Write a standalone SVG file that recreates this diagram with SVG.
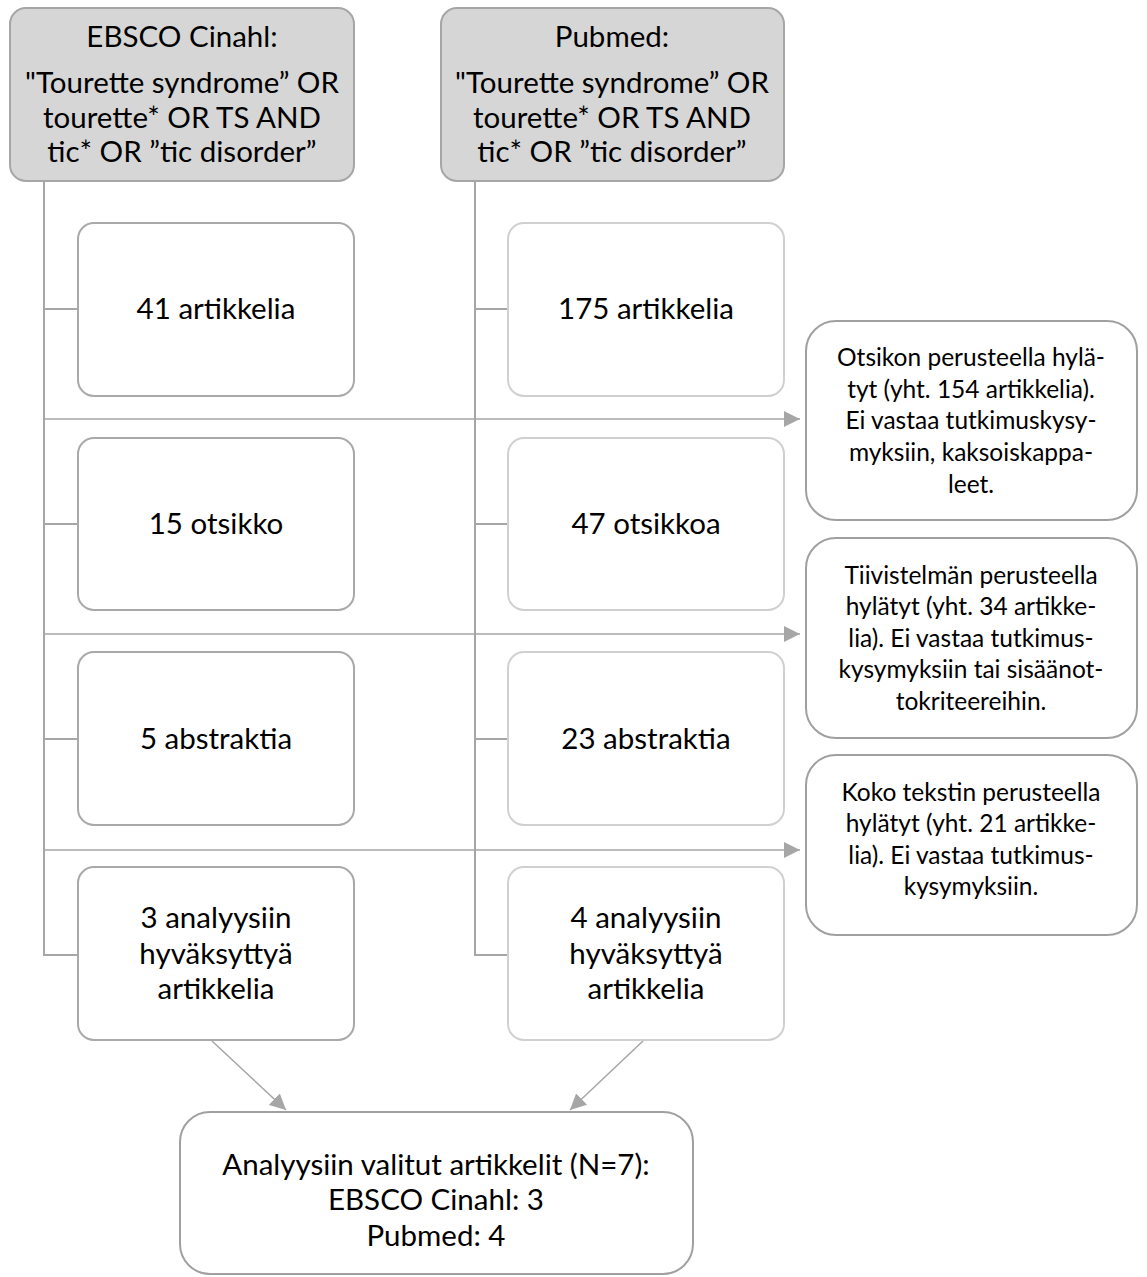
<svg xmlns="http://www.w3.org/2000/svg" width="1147" height="1277" viewBox="0 0 1147 1277">
<defs>
<style>
text{font-family:Lato,"Open Sans","Liberation Sans",sans-serif;fill:#000;text-anchor:middle}
.t{font-size:29.5px}
.s{font-size:24.5px}
.hdr{fill:#d6d6d6;stroke:#a6a6a6;stroke-width:2}
.lb{fill:#fff;stroke:#a9a9a9;stroke-width:2}
.rb{fill:#fff;stroke:#d0d0d0;stroke-width:2}
.sb{fill:#fff;stroke:#a0a0a0;stroke-width:2}
.ln{fill:none;stroke:#a6a6a6;stroke-width:2}
.ar{fill:none;stroke:#a6a6a6;stroke-width:1.5}
</style>
<marker id="ah" viewBox="0 0 10 10" refX="10" refY="5" markerWidth="16" markerHeight="16" markerUnits="userSpaceOnUse" orient="auto">
<path d="M0,0 L10,5 L0,10 Z" fill="#a6a6a6"/>
</marker>
</defs>
<g id="connectors">
<path class="ln" d="M44,181 V955 H78 M44,309 H78 M44,524 H78 M44,739 H78"/>
<path class="ln" d="M475,181 V955 H508 M475,309 H508 M475,524 H508 M475,739 H508"/>
<line class="ar" x1="44" y1="419" x2="800" y2="419" marker-end="url(#ah)"/>
<line class="ar" x1="44" y1="634" x2="800" y2="634" marker-end="url(#ah)"/>
<line class="ar" x1="44" y1="850" x2="800" y2="850" marker-end="url(#ah)"/>
<line class="ar" x1="212" y1="1041" x2="286" y2="1110" marker-end="url(#ah)"/>
<line class="ar" x1="643" y1="1041" x2="570" y2="1110" marker-end="url(#ah)"/>
</g>
<g id="ebsco">
<rect class="hdr" x="10" y="8" width="344" height="173" rx="16"/>
<text class="t" x="182" y="47">EBSCO Cinahl:</text>
<text class="t" x="182" y="93">"Tourette syndrome” OR</text>
<text class="t" x="182" y="128">tourette* OR TS AND</text>
<text class="t" x="182" y="162">tic* OR ”tic disorder”</text>
</g>
<g id="pubmed">
<rect class="hdr" x="441" y="8" width="343" height="173" rx="16"/>
<text class="t" x="612" y="47">Pubmed:</text>
<text class="t" x="612" y="93">"Tourette syndrome” OR</text>
<text class="t" x="612" y="128">tourette* OR TS AND</text>
<text class="t" x="612" y="162">tic* OR ”tic disorder”</text>
</g>
<g id="l1"><rect class="lb" x="78" y="223" width="276" height="173" rx="16"/><text class="t" x="216" y="319">41 artikkelia</text></g>
<g id="l2"><rect class="lb" x="78" y="438" width="276" height="172" rx="16"/><text class="t" x="216" y="534">15 otsikko</text></g>
<g id="l3"><rect class="lb" x="78" y="652" width="276" height="173" rx="16"/><text class="t" x="216" y="749">5 abstraktia</text></g>
<g id="l4"><rect class="lb" x="78" y="867" width="276" height="173" rx="16"/>
<text class="t" x="216" y="928">3 analyysiin</text><text class="t" x="216" y="964">hyväksyttyä</text><text class="t" x="216" y="999">artikkelia</text></g>
<g id="r1"><rect class="rb" x="508" y="223" width="276" height="173" rx="16"/><text class="t" x="646" y="319">175 artikkelia</text></g>
<g id="r2"><rect class="rb" x="508" y="438" width="276" height="172" rx="16"/><text class="t" x="646" y="534">47 otsikkoa</text></g>
<g id="r3"><rect class="rb" x="508" y="652" width="276" height="173" rx="16"/><text class="t" x="646" y="749">23 abstraktia</text></g>
<g id="r4"><rect class="rb" x="508" y="867" width="276" height="173" rx="16"/>
<text class="t" x="646" y="928">4 analyysiin</text><text class="t" x="646" y="964">hyväksyttyä</text><text class="t" x="646" y="999">artikkelia</text></g>
<g id="x1"><rect class="sb" x="806" y="321" width="331" height="199" rx="30"/>
<text class="s" x="971" y="366">Otsikon perusteella hylä-</text>
<text class="s" x="971" y="398">tyt (yht. 154 artikkelia).</text>
<text class="s" x="971" y="429">Ei vastaa tutkimuskysy-</text>
<text class="s" x="971" y="461">myksiin, kaksoiskappa-</text>
<text class="s" x="971" y="493">leet.</text></g>
<g id="x2"><rect class="sb" x="806" y="538" width="331" height="200" rx="30"/>
<text class="s" x="971" y="584">Tiivistelmän perusteella</text>
<text class="s" x="971" y="615">hylätyt (yht. 34 artikke-</text>
<text class="s" x="971" y="647">lia). Ei vastaa tutkimus-</text>
<text class="s" x="971" y="678">kysymyksiin tai sisäänot-</text>
<text class="s" x="971" y="710">tokriteereihin.</text></g>
<g id="x3"><rect class="sb" x="806" y="755" width="331" height="180" rx="30"/>
<text class="s" x="971" y="801">Koko tekstin perusteella</text>
<text class="s" x="971" y="832">hylätyt (yht. 21 artikke-</text>
<text class="s" x="971" y="864">lia). Ei vastaa tutkimus-</text>
<text class="s" x="971" y="895">kysymyksiin.</text></g>
<g id="final"><rect class="sb" x="180" y="1112" width="513" height="162" rx="30"/>
<text class="t" x="436" y="1175">Analyysiin valitut artikkelit (N=7):</text>
<text class="t" x="436" y="1210">EBSCO Cinahl: 3</text>
<text class="t" x="436" y="1246">Pubmed: 4</text></g>
</svg>
